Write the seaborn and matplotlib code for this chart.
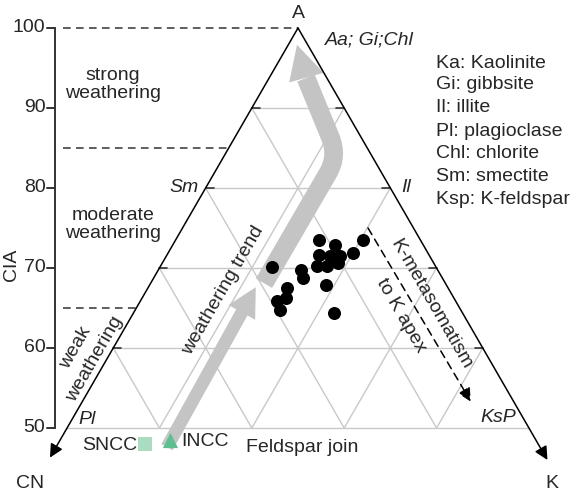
import numpy as np
import pandas as pd
import seaborn as sns
import matplotlib.pyplot as plt
from matplotlib.patches import FancyArrow, Polygon, PathPatch
from matplotlib.path import Path

# sample compositions (A, CN, K in %)
A_vals = [70.1, 69.8, 68.8, 67.5, 66.3, 65.9, 64.8, 73.5, 71.6, 70.3,
          72.9, 73.5, 71.9, 71.5, 71.5, 70.3, 70.6, 67.9, 64.4]
CN_vals = [17.8, 14.8, 15.1, 17.4, 18.1, 19.3, 19.6, 11.0, 11.9, 12.8,
           9.5, 6.2, 8.1, 10.8, 9.7, 11.7, 10.4, 13.0, 13.9]
K_vals = [12.1, 15.4, 16.1, 15.1, 15.6, 14.8, 15.6, 15.5, 16.5, 16.9,
          17.6, 20.3, 20.0, 17.7, 18.8, 18.0, 19.0, 19.1, 21.7]

# reference crusts
ref_names = ['SNCC', 'INCC']
ref_A = [48.0, 48.5]
ref_CN = [42.6, 39.6]
ref_K = [9.4, 11.9]
ref_colors = ['#a9dcc2', '#5fbf92']
ref_markers = ['s', '^']

cia_ticks = [100, 90, 80, 70, 60, 50]
grid_levels = [90, 80, 70, 60, 50]
zone_limits = [100, 85, 65]
legend_lines = ['Ka: Kaolinite', 'Gi: gibbsite', 'Il: illite', 'Pl: plagioclase',
                'Chl: chlorite', 'Sm: smectite', 'Ksp: K-feldspar']

S3 = np.sqrt(3)


def tern(a, cn, k):
    a, cn, k = np.asarray(a, float), np.asarray(cn, float), np.asarray(k, float)
    tot = a + cn + k
    a, cn, k = a * 100 / tot, cn * 100 / tot, k * 100 / tot
    return (k - cn) / S3, a


def lx(a):
    return -(100 - a) / S3


def rx(a):
    return (100 - a) / S3


sns.set_theme(style='white')
plt.rcParams['font.family'] = ['Liberation Sans', 'DejaVu Sans']
FS = 14

fig = plt.figure(figsize=(5.76, 4.92), dpi=100)
ax = fig.add_axes([0, 0, 1, 1])
ax.set_xlim(-37.25, 34.75)
ax.set_ylim(42, 103.5)
ax.axis('off')

grid_c = '#c8c8c8'
dark = '#333333'

# grid inside the upper half of the triangle
for a in grid_levels:
    ax.plot([lx(a), rx(a)], [a, a], color=grid_c, lw=1.0, zorder=1)
for c in [10, 20, 30, 40]:
    x1, y1 = tern(100 - c, c, 0)
    x2, y2 = tern(50, c, 50 - c)
    ax.plot([x1, x2], [y1, y2], color=grid_c, lw=1.0, zorder=1)
    x1, y1 = tern(100 - c, 0, c)
    x2, y2 = tern(50, 50 - c, c)
    ax.plot([x1, x2], [y1, y2], color=grid_c, lw=1.0, zorder=1)
for a in grid_levels[:-1]:
    ax.plot([lx(a), lx(a) + 1.0], [a, a], color=dark, lw=1.2, zorder=2)
    ax.plot([rx(a) - 1.0, rx(a)], [a, a], color=dark, lw=1.2, zorder=2)

# triangle sides with arrows to CN and K
for tip in [(lx(46.3), 46.3), (rx(46.0), 46.0)]:
    ax.annotate('', xy=tip, xytext=(0, 100),
                arrowprops=dict(arrowstyle='-|>', color='black', lw=1.1,
                                mutation_scale=20, shrinkA=0, shrinkB=0))

# CIA axis
ax_x = -30.375
ax.plot([ax_x, ax_x], [50, 100], color=dark, lw=1.4)
for t in cia_ticks:
    ax.plot([ax_x - 1.0, ax_x], [t, t], color=dark, lw=1.4)
    ax.text(ax_x - 1.2, t, str(t), ha='right', va='center', fontsize=FS)
ax.text(-35.75, 70.4, 'CIA', rotation=90, ha='center', va='center', fontsize=FS)

# weathering zone boundaries
for z in zone_limits:
    ax.plot([-29.4, lx(z)], [z, z], color=dark, lw=1.1, ls=(0, (5, 3.5)))

ax.text(-23.1, 92.9, 'strong\nweathering', ha='center', va='center',
        fontsize=FS, linespacing=1.05)
ax.text(-23.1, 75.4, 'moderate\nweathering', ha='center', va='center',
        fontsize=FS, linespacing=1.05)
ax.text(-27.75, 60.0, 'weak', ha='center', va='center', fontsize=FS,
        rotation=60, rotation_mode='anchor')
ax.text(-25.4, 58.6, 'weathering', ha='center', va='center', fontsize=FS,
        rotation=60, rotation_mode='anchor')

# weathering trend arrows
gray = '#c4c4c4'
ax.add_patch(FancyArrow(-16.375, 47.6, 11.1, 20.0, width=1.6, head_width=3.8,
                        head_length=3.6, length_includes_head=True,
                        color=gray, lw=0, zorder=2))
up_path = Path([(-4.25, 68.1), (3.74, 81.84), (5.0, 84.0), (4.05, 86.31), (1.0, 93.75)],
               [Path.MOVETO, Path.LINETO, Path.CURVE3, Path.CURVE3, Path.LINETO])
ax.add_patch(PathPatch(up_path, fill=False, edgecolor=gray, lw=13.5,
                       capstyle='butt', joinstyle='round', zorder=2))
ax.add_patch(Polygon([(-1.1, 93.2), (3.2, 94.4), (-0.125, 97.9)],
                     closed=True, color=gray, lw=0, zorder=2))
ax.text(-9.4, 67.25, 'weathering trend', rotation=60, ha='center', va='center',
        fontsize=FS, rotation_mode='anchor')

# K-metasomatism
ax.annotate('', xy=(21.6, 53.3), xytext=(8.75, 75.0),
            arrowprops=dict(arrowstyle='-|>', color='black', lw=1.1,
                            ls=(0, (5, 3.5)), mutation_scale=20,
                            shrinkA=0, shrinkB=0))
ax.text(16.6, 65.4, 'K-metasomatism', rotation=-60, ha='center',
        va='center', fontsize=FS, rotation_mode='anchor')
ax.text(12.9, 64.1, 'to K apex', rotation=-60, ha='center',
        va='center', fontsize=FS, rotation_mode='anchor')

# samples
px, py = tern(A_vals, CN_vals, K_vals)
pts = pd.DataFrame({'x': px, 'y': py})
sns.scatterplot(data=pts, x='x', y='y', color='black', edgecolor='black',
                s=88, linewidth=0, ax=ax, zorder=5, legend=False)

rx_, ry_ = tern(ref_A, ref_CN, ref_K)
for i in range(len(ref_names)):
    ax.scatter(rx_[i], ry_[i], marker=ref_markers[i], color=ref_colors[i],
               s=110 if ref_markers[i] == 's' else 120, linewidths=0, zorder=4)
ax.text(-20.1, 47.75, 'SNCC', ha='right', va='center', fontsize=FS)
ax.text(-14.6, 48.25, 'INCC', ha='left', va='center', fontsize=FS)
ax.text(0.5, 47.6, 'Feldspar join', ha='center', va='center', fontsize=FS)

# apex and mineral labels
ax.text(0, 101.8, 'A', ha='center', va='center', fontsize=FS)
ax.text(-33.5, 43.0, 'CN', ha='center', va='center', fontsize=FS)
ax.text(31.75, 43.0, 'K', ha='center', va='center', fontsize=FS)
ax.text(3.4, 98.5, 'Aa; Gi;Chl', ha='left', va='center', fontsize=FS, style='italic')
ax.text(-12.4, 80.1, 'Sm', ha='right', va='center', fontsize=FS, style='italic')
ax.text(12.9, 80.0, 'Il', ha='left', va='center', fontsize=FS, style='italic')
ax.text(-27.5, 51.0, 'Pl', ha='left', va='center', fontsize=FS, style='italic')
ax.text(22.75, 51.25, 'KsP', ha='left', va='center', fontsize=FS, style='italic')

leg_y = [95.6, 92.9, 90.0, 87.0, 84.25, 81.4, 78.5]
for txt, yy in zip(legend_lines, leg_y):
    ax.text(17.25, yy, txt, ha='left', va='center', fontsize=FS)

fig.savefig('out.png', dpi=100)
